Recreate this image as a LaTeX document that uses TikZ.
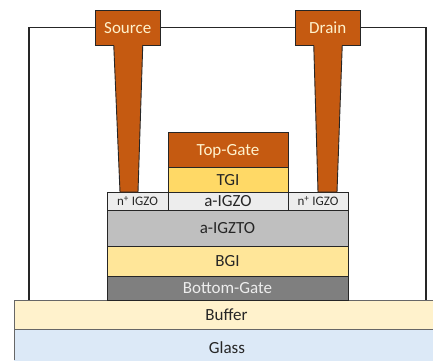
\documentclass[tikz,border=0pt]{standalone}
\usepackage{fontspec}
\setmainfont{Carlito}
\usepackage{xcolor}
\usetikzlibrary{calc}
\usetikzlibrary{positioning}
\definecolor{metal}{HTML}{C55A11}
\definecolor{tgicol}{HTML}{FFD966}
\definecolor{bgicol}{HTML}{FFE699}
\definecolor{igztocol}{HTML}{BFBFBF}
\definecolor{igzocol}{HTML}{EDEDED}
\definecolor{gatecol}{HTML}{7F7F7F}
\definecolor{buffercol}{HTML}{FFF2CC}
\definecolor{glasscol}{HTML}{DCE9F7}
\definecolor{ink}{HTML}{262626}
\tikzset{
  layer/.style={draw=ink, line width=0.9pt, inner sep=0pt, outer sep=0pt, text=ink, text depth=0pt, font=\fontsize{17}{17}\selectfont},
  lighttext/.style={text=#1},
  contact/.style={layer, font=\fontsize{13}{13}\selectfont},
  pad/.style={layer, fill=metal, text=buffercol, minimum width=64.5pt, minimum height=35pt},
  stem/.style={draw=ink, line width=0.9pt, fill=metal},
  wire/.style={draw=ink, line width=1.3pt}
}
\begin{document}
\begin{tikzpicture}[x=1pt, y=-1pt]
\useasboundingbox (0, 0) rectangle (433, 360);
%wires
\coordinate (wireL) at (29, 300);
\coordinate (wireR) at (426, 300);
\coordinate (padS) at (127.75, 27.5);
\coordinate (padD) at (327.75, 27.5);
\draw[wire] (padS) -- (padD);
\draw[wire] (wireL) |- (padS);
\draw[wire] (wireR) |- (padD);

%substrate
\node[layer, fill=glasscol, draw=none, minimum width=425pt, minimum height=40pt] (glass) at (226.5, 349) {};
\node[text=ink, font=\fontsize{17}{17}\selectfont] (glasstext) at (227, 348) {Glass};
\draw[draw=ink!70, line width=0.8pt] (14.5, 329) -- (14.5, 360);
\node[layer, draw=ink!70, fill=buffercol, minimum width=425pt, minimum height=29pt] (buffer) at (226.5, 315) {Buffer};

%stack
\node[layer, fill=gatecol, lighttext=igzocol, minimum width=241pt, minimum height=24pt] (bottomgate) at (227.5, 288) {Bottom-Gate};
\node[layer, fill=bgicol, minimum width=241pt, minimum height=30pt] (bgi) at (227.5, 261) {BGI};
\node[layer, fill=igztocol, minimum width=241pt, minimum height=36pt] (igzto) at (227.5, 228) {a-IGZTO};
\node[layer, fill=igzocol, minimum width=120pt, minimum height=18pt] (igzo) at (228, 201) {a-IGZO};
\node[layer, fill=tgicol, minimum width=120pt, minimum height=25pt] (tgi) at (228, 179.5) {TGI};
\node[layer, fill=metal, text=buffercol, minimum width=120pt, minimum height=35pt] (topgate) at (228, 149.5) {Top-Gate};
\node[contact, fill=igzocol, minimum width=61pt, minimum height=18pt] (nleft) at (137.5, 201) {n\textsuperscript{+} IGZO};
\node[contact, fill=igzocol, minimum width=60pt, minimum height=18pt] (nright) at (318, 201) {n\textsuperscript{+} IGZO};

%source and drain
\node[pad] (source) at (padS) {Source};
\node[pad] (drain) at (padD) {Drain};
\draw[stem] ($(source.south)+(-14,0)$) -- ($(nleft.north)+(-17.5,0)$) -- ($(nleft.north)+(0.5,0)$) -- ($(source.south)+(15,0)$);
\draw[stem] ($(drain.south)+(-14,0)$) -- ($(nright.north)+(0,0)$) -- ($(nright.north)+(19,0)$) -- ($(drain.south)+(14.5,0)$);
\end{tikzpicture}
\end{document}
